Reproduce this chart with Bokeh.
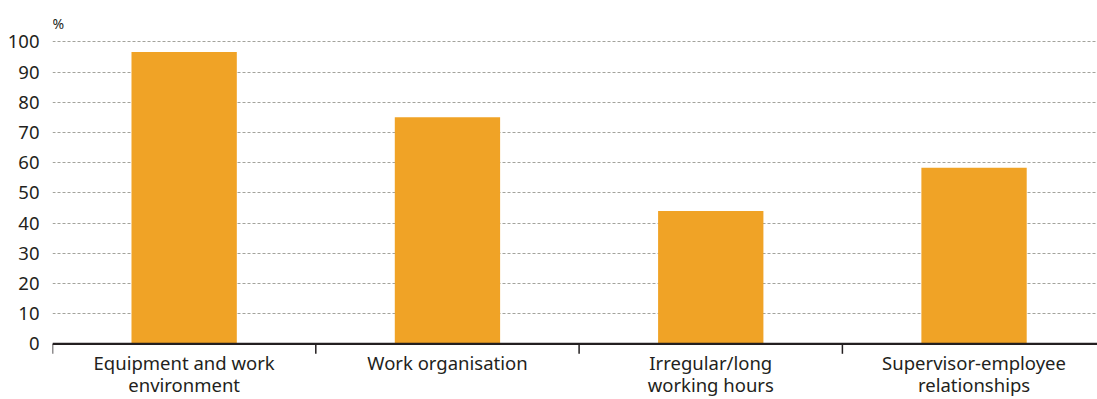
from bokeh.plotting import figure
from bokeh.models import Range1d, FixedTicker, Span
from bokeh.core.properties import value
from bokeh.embed import file_html
from bokeh.resources import INLINE

categories = ["Equipment and work\nenvironment", "Work organisation",
              "Irregular/long\nworking hours", "Supervisor-employee\nrelationships"]
values = [96.6, 75.0, 44.0, 58.3]
y_ticks = [0, 10, 20, 30, 40, 50, 60, 70, 80, 90, 100]
unit_label = "%"

FONT = "Noto Sans"
TXT = "#231f20"
BAR = "#f0a326"
GRID = "#a3a39c"

n = len(categories)
centers = [i + 0.5 for i in range(n)]
boundaries = [float(i) for i in range(n)]
line1 = [c.split("\n")[0] for c in categories]
line2 = [c.split("\n")[1] if "\n" in c else "" for c in categories]

# pixel scale: 302 px for 100 units, y=0 at 343.3 px from top of a 399 px canvas
H = 399
px_per_unit = 3.02
y_top = 343.3 / px_per_unit
y_bot = -(H - 343.3) / px_per_unit
x_end = (1097 - 52) / 263.3

p = figure(width=1097, height=H, output_backend="svg", toolbar_location=None,
           x_axis_location=None,
           x_range=Range1d(0, x_end), y_range=Range1d(y_bot, y_top),
           min_border_left=52, min_border_right=0, min_border_top=0, min_border_bottom=0)
p.outline_line_color = None
p.background_fill_color = "white"
p.border_fill_color = "white"

p.vbar(x=centers, top=values, width=0.4, color=BAR, line_color=None)

# y axis
ya = p.yaxis[0]
ya.ticker = FixedTicker(ticks=y_ticks)
ya.axis_line_color = None
ya.major_tick_line_color = None
ya.minor_tick_line_color = None
ya.major_label_text_font = FONT
ya.major_label_text_font_size = "18.5px"
ya.major_label_text_color = TXT
ya.major_label_standoff = 7

for g in p.xgrid:
    g.visible = False
p.ygrid.ticker = FixedTicker(ticks=y_ticks[1:])
p.ygrid.grid_line_color = GRID
p.ygrid.grid_line_dash = "3 2"
p.ygrid.grid_line_width = 1

# category axis: baseline, separators, labels
p.add_layout(Span(location=0, dimension="width", line_color=TXT, line_width=2.2))
tick_len = 10 / px_per_unit
p.segment(x0=boundaries, y0=[0] * n, x1=boundaries, y1=[-tick_len] * n,
          line_color=TXT, line_width=1.5)
p.text(x=centers, y=[-(362 - 343.3) / px_per_unit] * n, text=line1, text_font=value(FONT),
       text_font_size="18.5px", text_color=TXT, text_align="center",
       text_baseline="alphabetic")
p.text(x=centers, y=[-(384 - 343.3) / px_per_unit] * n, text=line2, text_font=value(FONT),
       text_font_size="18.5px", text_color=TXT, text_align="center",
       text_baseline="alphabetic")

# unit label
p.text(x=[0], y=[106.0], text=[unit_label], text_font=value(FONT),
       text_font_size="14px", text_color=TXT, text_align="left",
       text_baseline="middle")

open("out.html", "w").write(file_html(p, INLINE))
